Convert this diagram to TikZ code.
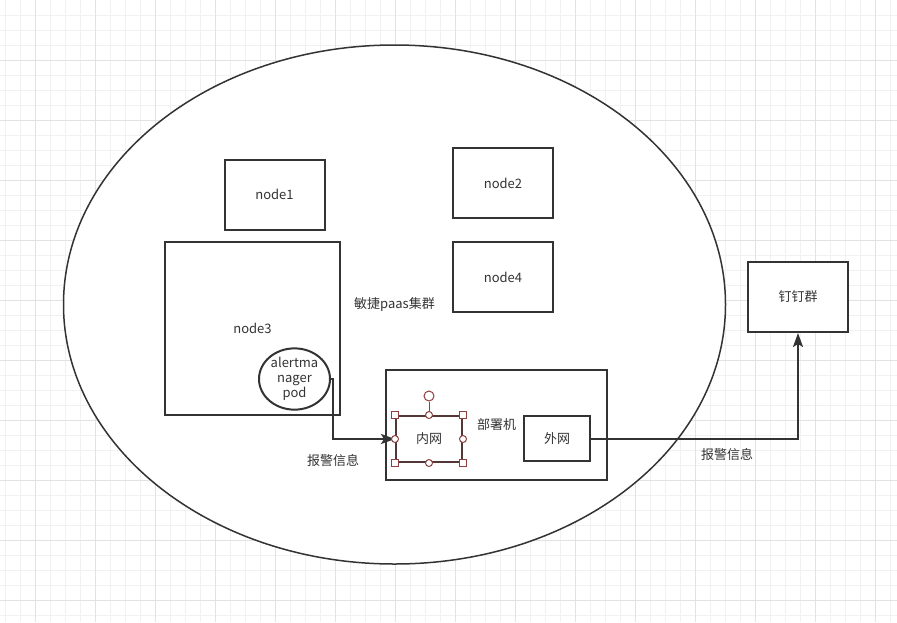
\documentclass[tikz,border=0pt]{standalone}
\usepackage{fontspec}
\setmainfont{Noto Sans CJK SC}
\usetikzlibrary{
  shapes,
  arrows.meta,
  positioning,  % relative placement
  calc          % Calculations $...$
}
\definecolor{ink}{HTML}{333333}
\definecolor{gridminor}{HTML}{F1F1F1}
\definecolor{gridmajor}{HTML}{E2E2E2}
\definecolor{handle}{HTML}{8E3F3F}
\tikzset{
  font=\fontsize{13}{15}\selectfont,
  >={Stealth[length=14pt,width=10pt,inset=3pt]},
  my box/.style={
    draw=ink,
    line width=2pt,
    rectangle,
    fill=white,
    text=ink,
    inner sep=0pt,
    minimum width=100pt,
    minimum height=70pt
  },
  my cluster/.style={
    draw=ink,
    line width=1.5pt,
    ellipse,
    fill=white,
    text=ink,
    inner sep=0pt,
    minimum width=662pt,
    minimum height=519pt
  },
  my pod/.style={
    draw=ink,
    line width=2pt,
    ellipse,
    fill=white,
    text=ink,
    inner sep=0pt,
    align=center,
    minimum width=71pt,
    minimum height=53pt
  },
  my link/.style={
    draw=ink,
    line width=2pt
  },
  my label/.style={
    text=ink,
    inner sep=1pt
  },
  corner handle/.style={
    draw=handle,
    fill=white,
    line width=1pt,
    rectangle,
    minimum size=7pt,
    inner sep=0pt
  },
  side handle/.style={
    draw=handle,
    fill=white,
    line width=1pt,
    circle,
    minimum size=7pt,
    inner sep=0pt
  }
}

\begin{document}
\begin{tikzpicture}[x=1pt,y=-1pt]
\useasboundingbox (0,0) rectangle (897,622);
\fill[white] (0,0) rectangle (897,622);
% grid
\foreach \gx in {5,20,...,890} \draw[gridminor,line width=1pt] (\gx,0) -- (\gx,622);
\foreach \gy in {15,30,...,615} \draw[gridminor,line width=1pt] (0,\gy) -- (897,\gy);
\foreach \gx in {35,95,...,875} \draw[gridmajor,line width=1pt] (\gx,0) -- (\gx,622);
\foreach \gy in {60,120,...,600} \draw[gridmajor,line width=1pt] (0,\gy) -- (897,\gy);

\node[my cluster] (cluster) at (394.5,304.5) {敏捷paas集群};
\node[my box] (node1) at (274.5,194.5) {node1};
\node[my box] (node2) at (503,183) {node2};
\node[my box] (node4) at (503,277) {node4};
\node[my box,minimum width=175pt,minimum height=173pt] (node3) at (252.5,328.5) {node3};
\node[my pod] (alert) at (294.5,379) {alertma\\nager\\pod};
\node[my box,minimum width=221pt,minimum height=110pt] (deploy) at (496.5,425) {部署机};
\node[my box,minimum width=66pt,minimum height=46pt,draw=ink!65!handle] (inner) at (429,439) {内网};
\node[my box,minimum width=66pt,minimum height=45pt] (outer) at (557,438.5) {外网};
\node[my box] (dingding) at (798,297) {钉钉群};

\draw[my link,->] (alert.east) -- ++(2,0) |- (inner.west);
\draw[my link,->] (outer.east) -| (dingding.south);
\node[my label] (alarm1) at (333,461) {报警信息};
\node[my label] (alarm2) at (727,455) {报警信息};

% selection handles
\node[side handle,minimum size=10pt] (rotate) at (429,396) {};
\draw[handle,line width=1pt] (rotate) -- (inner.north);
\foreach \a in {north west,north east,south west,south east}
  \node[corner handle] at (inner.\a) {};
\foreach \a in {north,south,west,east}
  \node[side handle] at (inner.\a) {};
\end{tikzpicture}
\end{document}
